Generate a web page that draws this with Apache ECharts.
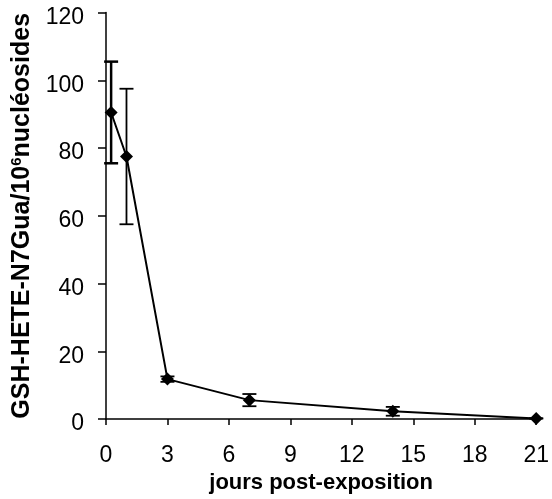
<!DOCTYPE html>
<html><head><meta charset="utf-8">
<script src="https://cdn.jsdelivr.net/npm/echarts@6/dist/echarts.min.js"></script>
<style>html,body{margin:0;padding:0;background:#fff}#c{width:552px;height:499px}</style>
</head><body><div id="c"></div>
<script>
var days = [0.25, 1, 3, 7, 14, 21];
var means = [90.5, 77.5, 11.8, 5.6, 2.3, 0.2];
var errors = [15, 20, 0.8, 1.8, 1.3, 0];
var xTicks = [0, 3, 6, 9, 12, 15, 18, 21];
var yTicks = [0, 20, 40, 60, 80, 100, 120];

var chart = echarts.init(document.getElementById('c'));
var lineData = days.map(function(d, i){ return [d, means[i]]; });
var errData = days.map(function(d, i){ return [d, means[i] - errors[i], means[i] + errors[i]]; });
var font = 'Liberation Sans, Arial, sans-serif';
chart.setOption({
  animation: false,
  grid: { left: 106, right: 15, top: 12.5, bottom: 79 },
  xAxis: {
    type: 'value', min: 0, max: 21, interval: 3,
    name: 'jours post-exposition', nameLocation: 'middle', nameGap: 49,
    nameTextStyle: { fontFamily: font, fontWeight: 'bold', fontSize: 22, color: '#000' },
    axisLine: { lineStyle: { color: '#000', width: 1.5 } },
    axisTick: { show: true, inside: false, length: 6, lineStyle: { color: '#000', width: 1.5 } },
    axisLabel: { fontFamily: font, fontSize: 23, color: '#000', margin: 25,
      formatter: function(v){ return xTicks.indexOf(v) >= 0 ? String(v) : ''; } },
    splitLine: { show: false }
  },
  yAxis: {
    type: 'value', min: 0, max: 120, interval: 20,
    name: '{a|GSH-HETE-N7Gua/10}{s|6}{a|nucléosides}', nameLocation: 'middle', nameGap: 70,
    nameTextStyle: {
      rich: {
        a: { fontFamily: font, fontWeight: 'bold', fontSize: 25, color: '#000' },
        s: { fontFamily: font, fontWeight: 'bold', fontSize: 15, color: '#000', verticalAlign: 'top', padding: [0,0,10,0] }
      }
    },
    axisLine: { show: true, lineStyle: { color: '#000', width: 1.5 } },
    axisTick: { show: true, inside: false, length: 8, lineStyle: { color: '#000', width: 1.5 } },
    axisLabel: { color: '#000', margin: 22,
      formatter: function(v){ return yTicks.indexOf(v) >= 0 ? '{v|' + v + '}' : ''; },
      rich: { v: { fontFamily: font, fontSize: 23, color: '#000', padding: [10, 0, 0, 0] } } },
    splitLine: { show: false }
  },
  series: [
    {
      type: 'custom',
      data: errData,
      renderItem: function(params, api) {
        var x = api.value(0), lo = api.value(1), hi = api.value(2);
        var pHi = api.coord([x, hi]), pLo = api.coord([x, lo]);
        var w = 7;
        var st = { stroke: '#000', lineWidth: params.dataIndex === 0 ? 2.5 : 1.8 };
        return { type: 'group', children: [
          { type: 'line', shape: { x1: pHi[0], y1: pHi[1], x2: pLo[0], y2: pLo[1] }, style: st },
          { type: 'line', shape: { x1: pHi[0]-w, y1: pHi[1], x2: pHi[0]+w, y2: pHi[1] }, style: st },
          { type: 'line', shape: { x1: pLo[0]-w, y1: pLo[1], x2: pLo[0]+w, y2: pLo[1] }, style: st }
        ]};
      },
      z: 3
    },
    {
      type: 'line', data: lineData,
      symbol: 'diamond', symbolSize: 13,
      lineStyle: { color: '#000', width: 2 },
      itemStyle: { color: '#000' },
      z: 4
    }
  ]
});
</script></body></html>
